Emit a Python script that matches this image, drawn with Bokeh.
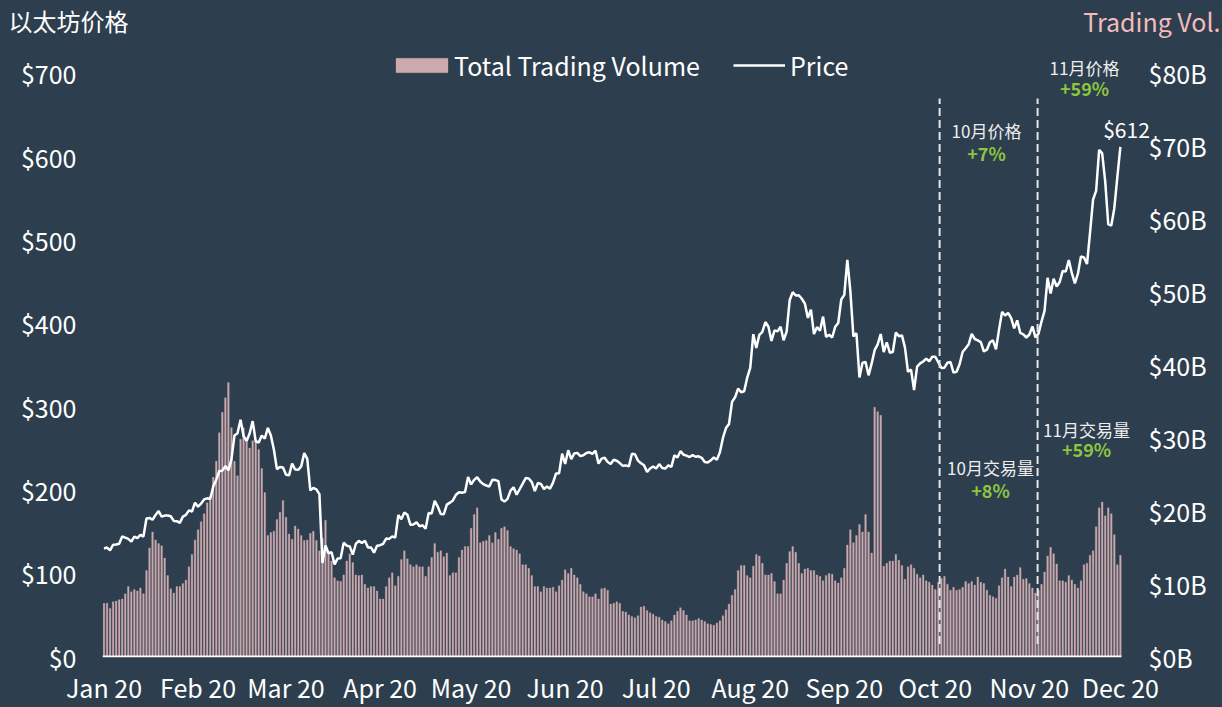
import pandas as pd
from bokeh.plotting import figure
from bokeh.layouts import column
from bokeh.models import (Range1d, LinearAxis, FixedTicker, PrintfTickFormatter,
                          DatetimeTickFormatter, Label, Legend, LegendItem, ColumnDataSource)
from bokeh.core.properties import value
from bokeh.embed import file_html
from bokeh.resources import INLINE

# ---------------- data ----------------
price_jan = [129.6, 130.8, 127.4, 134.2, 134.4, 135.4, 144.1, 142.8, 141.3, 138.0, 143.9, 142.1, 146.1, 144.0,
             165.6, 166.4, 164.2, 170.0, 174.6, 167.9, 169.2, 169.3, 168.4, 162.8, 162.5, 160.4, 167.9, 170.0,
             175.4, 174.1, 184.7]
price_feb = [179.9, 183.6, 188.6, 189.9, 189.1, 204.2, 212.3, 222.7, 223.1, 228.6, 223.5, 236.7, 265.4, 268.0,
             284.2, 264.7, 258.9, 267.8, 282.6, 258.4, 256.9, 265.3, 261.5, 274.5, 265.4, 248.3, 225.0, 227.5,
             226.8]
price_mar = [218.3, 217.5, 231.6, 224.5, 224.1, 228.3, 244.2, 237.2, 199.5, 202.3, 200.7, 194.9, 112.3, 133.2,
             124.0, 125.2, 110.6, 117.7, 117.9, 136.6, 133.0, 132.2, 122.3, 135.1, 138.8, 136.3, 138.9, 131.0,
             130.9, 124.7, 132.9]
price_apr = [133.6, 135.3, 141.6, 141.2, 144.2, 142.8, 169.8, 164.7, 173.0, 170.3, 158.1, 158.4, 161.1, 156.3,
             157.6, 153.3, 172.2, 171.6, 186.9, 180.0, 171.1, 170.9, 182.3, 184.7, 187.4, 194.2, 197.2, 196.6,
             197.4, 215.5]
price_may = [206.6, 212.1, 215.2, 210.1, 206.9, 205.3, 204.1, 212.1, 211.8, 210.5, 188.6, 186.0, 189.3, 199.2,
             203.1, 194.3, 200.8, 207.6, 214.2, 213.8, 209.4, 198.7, 208.3, 207.2, 201.1, 204.1, 201.5, 208.8,
             219.8, 220.0, 243.5]
price_jun = [231.1, 247.6, 236.9, 243.8, 244.5, 240.6, 241.6, 244.4, 245.2, 243.4, 247.1, 231.6, 237.6, 238.7,
             233.5, 231.1, 236.2, 235.1, 232.2, 228.9, 229.4, 228.2, 243.4, 242.9, 235.2, 232.1, 229.5, 221.7,
             225.7, 228.2]
price_jul = [225.7, 231.0, 226.4, 225.6, 229.4, 227.7, 241.5, 239.0, 246.5, 242.3, 241.2, 239.5, 241.8, 239.8,
             240.3, 238.5, 233.6, 232.8, 235.5, 239.0, 236.1, 245.2, 262.4, 274.2, 279.1, 305.7, 311.2, 321.6,
             317.2, 318.4, 334.8]
price_aug = [346.6, 387.0, 370.5, 386.2, 389.9, 401.6, 395.9, 378.9, 391.5, 390.4, 395.9, 379.7, 390.0, 427.8,
             437.4, 433.4, 433.8, 429.5, 423.7, 406.5, 416.4, 387.2, 395.4, 391.1, 408.1, 383.7, 386.3, 383.0,
             395.8, 400.4, 428.6]
price_sep = [434.2, 476.2, 438.4, 384.4, 388.1, 335.1, 352.8, 353.5, 337.6, 351.6, 367.8, 374.7, 387.2, 365.5,
             377.3, 364.8, 365.6, 389.0, 384.6, 385.5, 370.9, 341.8, 344.5, 320.0, 348.0, 351.9, 354.2, 357.6,
             354.5, 359.8]
price_oct = [359.9, 353.2, 346.5, 346.8, 352.7, 353.6, 340.9, 341.8, 350.9, 365.6, 370.1, 375.0, 387.4, 381.2,
             379.5, 377.4, 366.2, 368.4, 377.3, 379.6, 368.9, 392.5, 413.8, 409.4, 412.5, 406.2, 393.9, 403.6,
             388.5, 386.7, 383.0]
price_nov = [386.6, 396.4, 383.2, 387.6, 402.1, 415.0, 454.7, 435.7, 453.6, 444.2, 449.7, 462.9, 462.3, 476.1,
             460.2, 448.0, 459.6, 480.4, 479.1, 471.2, 509.1, 548.7, 559.0, 608.4, 604.1, 570.2, 518.8, 517.5,
             538.2, 575.8]
price_dec = [612.0]

# total trading volume, billions of USD
vol_jan = [7.3, 7.3, 6.6, 7.5, 7.6, 7.8, 7.9, 8.6, 9.6, 8.9, 9.2, 9.0, 9.4, 8.6, 11.8, 14.9, 17.1, 16.0, 15.5,
           15.2, 13.5, 11.1, 9.3, 8.7, 9.6, 9.6, 10.0, 10.5, 12.3, 14.0, 16.0]
vol_feb = [17.4, 18.5, 19.6, 21.1, 22.0, 24.6, 26.8, 30.7, 33.5, 35.5, 37.6, 31.4, 26.8, 24.8, 29.8, 31.4, 29.8,
           28.6, 29.6, 29.6, 28.4, 25.8, 22.5, 16.6, 17.0, 17.2, 18.8, 19.8, 21.4]
vol_mar = [19.1, 16.8, 16.1, 17.9, 17.5, 16.6, 15.9, 16.0, 16.9, 17.2, 15.9, 14.5, 16.2, 18.7, 14.3, 13.1, 10.8,
           10.4, 10.3, 11.2, 13.1, 14.1, 12.9, 11.2, 11.1, 11.2, 9.9, 9.4, 9.6, 9.6, 9.0]
vol_apr = [7.9, 7.9, 9.6, 10.8, 11.5, 9.7, 11.0, 13.3, 14.5, 13.4, 12.6, 12.3, 12.6, 12.3, 12.3, 11.0, 12.3, 13.6,
           15.5, 14.3, 14.5, 13.7, 14.2, 11.1, 11.5, 11.5, 13.6, 14.6, 15.1, 15.1]
vol_may = [17.6, 19.5, 20.4, 15.6, 15.8, 15.9, 16.6, 15.6, 17.0, 16.1, 17.6, 17.8, 17.3, 15.1, 14.8, 14.6, 14.1,
           12.6, 12.6, 12.1, 11.1, 9.6, 9.6, 8.9, 9.6, 9.4, 9.4, 9.5, 8.9, 9.7, 10.5]
vol_jun = [11.9, 11.4, 12.1, 11.2, 10.8, 9.9, 8.9, 8.6, 8.2, 8.2, 8.6, 7.9, 9.3, 9.4, 9.1, 7.2, 7.3, 7.5, 7.3,
           6.2, 6.1, 5.7, 5.5, 5.3, 5.6, 6.8, 6.9, 6.3, 6.0, 5.8]
vol_jul = [5.5, 5.4, 5.0, 4.8, 4.5, 4.9, 5.7, 6.2, 6.7, 6.3, 5.7, 4.9, 4.9, 5.0, 5.2, 5.0, 4.8, 4.5, 4.4, 4.3,
           4.6, 4.9, 5.6, 6.4, 7.2, 8.4, 9.2, 11.8, 12.5, 12.5, 11.1]
vol_aug = [10.8, 12.4, 14.0, 13.8, 12.8, 11.2, 11.2, 11.4, 10.3, 8.6, 8.6, 10.5, 12.8, 14.4, 15.1, 14.3, 12.8,
           11.4, 12.0, 12.1, 11.8, 11.8, 11.2, 11.0, 10.4, 11.1, 11.4, 11.3, 10.4, 10.1, 10.8]
vol_sep = [12.1, 15.3, 17.4, 15.6, 16.6, 18.1, 17.1, 19.5, 17.1, 14.2, 34.2, 33.6, 33.1, 12.4, 12.8, 13.1, 13.1,
           14.0, 13.2, 12.5, 10.6, 12.3, 12.6, 12.1, 11.3, 10.8, 11.2, 10.4, 10.2, 9.8]
vol_oct = [9.2, 10.2, 10.7, 11.0, 9.9, 9.1, 9.5, 9.1, 9.2, 9.5, 10.3, 10.0, 10.3, 9.8, 10.9, 10.2, 10.0, 9.1,
           8.4, 8.2, 8.0, 9.7, 10.8, 12.0, 10.9, 9.6, 10.9, 11.2, 12.2, 10.6, 10.7]
vol_nov = [10.0, 9.4, 8.7, 9.1, 9.9, 11.6, 13.8, 15.0, 14.1, 12.7, 10.4, 10.4, 10.2, 11.1, 10.5, 9.9, 9.4, 10.4,
           12.6, 12.8, 13.9, 14.5, 17.8, 20.4, 21.2, 19.3, 20.4, 19.6, 16.7, 12.6]
vol_dec = [13.9]

price_ticks = [0, 100, 200, 300, 400, 500, 600, 700]
vol_ticks = [0, 10, 20, 30, 40, 50, 60, 70, 80]
month_ticks = ["2020-01-01", "2020-02-01", "2020-03-01", "2020-04-01", "2020-05-01", "2020-06-01",
               "2020-07-01", "2020-08-01", "2020-09-01", "2020-10-01", "2020-11-01", "2020-12-01"]

price = (price_jan + price_feb + price_mar + price_apr + price_may + price_jun + price_jul + price_aug +
         price_sep + price_oct + price_nov + price_dec)
volume = (vol_jan + vol_feb + vol_mar + vol_apr + vol_may + vol_jun + vol_jul + vol_aug + vol_sep +
          vol_oct + vol_nov + vol_dec)
dates = pd.date_range("2020-01-01", "2020-12-01", freq="D")
src = ColumnDataSource(dict(date=dates, price=price, vol=volume))

# ---------------- style ----------------
BG = "#2d3e4e"
BAR = "#cba9ad"
GREEN = "#8cc63f"
FONT = "Noto Sans CJK SC"
DAY = 86400000

PAGE_W, PAGE_H = 1222, 707
HDR_H = 40                       # header strip (titles)
PX_PER_DAY = 3.034
PX_PER_USD = 0.8329
X0_PX = 103.5                    # page x of first day
ZERO_PX = 656                    # page y of $0
FRAME_L, FRAME_R, FRAME_B = 102, 1150, 657

def no_align(fig):
    if "frame_align" in fig.properties():
        fig.frame_align = False
    fig.styles = {"background-color": BG}

# ---------------- header strip with the two titles ----------------
hdr = figure(width=PAGE_W, height=HDR_H, output_backend="svg", toolbar_location=None,
             x_range=Range1d(0, PAGE_W), y_range=Range1d(HDR_H, 0),
             x_axis_location=None, y_axis_location=None, min_border=0,
             background_fill_color=BG, border_fill_color=BG, outline_line_color=None)
hdr.grid.visible = False
no_align(hdr)
hdr.text(x=[8], y=[20], text=["以太坊价格"], text_font=value(FONT), text_font_size="24px",
         text_align="left", text_baseline="middle", text_color="white")
hdr.text(x=[1220], y=[20], text=["Trading Vol."], text_font=value(FONT), text_font_size="25px",
         text_align="right", text_baseline="middle", text_color="#f2bcbc")

# ---------------- main chart ----------------
y_lo = -(FRAME_B - ZERO_PX) / PX_PER_USD
y_hi = (ZERO_PX - HDR_H) / PX_PER_USD
x_lo = dates[0] - pd.Timedelta(days=(X0_PX - FRAME_L) / PX_PER_DAY)
x_hi = dates[0] + pd.Timedelta(days=(FRAME_R - X0_PX) / PX_PER_DAY)

p = figure(width=PAGE_W, height=PAGE_H - HDR_H, x_axis_type="datetime", output_backend="svg",
           toolbar_location=None, x_range=Range1d(x_lo, x_hi), y_range=Range1d(y_lo, y_hi),
           background_fill_color=BG, border_fill_color=BG, outline_line_color=None,
           min_border_left=FRAME_L, min_border_right=PAGE_W - FRAME_R, min_border_top=0,
           min_border_bottom=PAGE_H - FRAME_B)
p.extra_y_ranges = {"vol": Range1d(y_lo * 80 / 700, y_hi * 80 / 700)}
p.xgrid.visible = False
p.ygrid.visible = False
no_align(p)

bars = p.vbar(x="date", top="vol", width=0.55 * DAY, source=src, y_range_name="vol",
              fill_color=BAR, line_color=BAR, line_width=0.3)
line = p.line(x="date", y="price", source=src, line_color="white", line_width=2.5)

# baseline under the bars (from the frame's left edge to the last day)
p.segment(x0=[x_lo], x1=[dates[-1] + pd.Timedelta(hours=8)], y0=[0], y1=[0], line_color="white",
          line_width=2)

# vertical month separators
sep_x = [pd.Timestamp("2020-10-02 10:00"), pd.Timestamp("2020-11-03 17:00")]
p.segment(x0=sep_x, x1=sep_x, y0=[15, 15], y1=[670, 670], line_color="#e6e6e6", line_width=2,
          line_dash="8 4")

def style_axis(ax):
    ax.axis_line_color = None
    ax.major_tick_line_color = None
    ax.minor_tick_line_color = None
    ax.major_tick_out = 0
    ax.major_tick_in = 0
    ax.minor_tick_out = 0
    ax.major_label_text_color = "white"
    ax.major_label_text_font = FONT
    ax.major_label_text_font_size = "25px"

# left axis
yl = p.yaxis[0]
yl.ticker = FixedTicker(ticks=price_ticks)
yl.formatter = PrintfTickFormatter(format="$%d")
style_axis(yl)
yl.major_label_standoff = 26

# right axis
yr = LinearAxis(y_range_name="vol", ticker=FixedTicker(ticks=vol_ticks),
                formatter=PrintfTickFormatter(format="$%dB"))
style_axis(yr)
yr.major_label_standoff = -2
p.add_layout(yr, "right")

# bottom axis
xa = p.xaxis[0]
xa.ticker = FixedTicker(ticks=[pd.Timestamp(m).value // 10**6 for m in month_ticks])
fmt = "%b %y"
xa.formatter = DatetimeTickFormatter(milliseconds=fmt, seconds=fmt, minsec=fmt, minutes=fmt, hourmin=fmt,
                                     hours=fmt, days=fmt, months=fmt, years=fmt)
style_axis(xa)
xa.major_label_standoff = 11

# legends (two, so each swatch can have its own width)
leg_common = dict(orientation="horizontal", label_text_font=FONT, label_text_font_size="25px",
                  label_text_color="white", background_fill_alpha=0, border_line_alpha=0,
                  padding=0, margin=0, label_height=24)
leg_bar = Legend(items=[LegendItem(label="Total Trading Volume", renderers=[bars])],
                 location=(287, FRAME_B - 83), glyph_width=65, glyph_height=18, label_standoff=-1,
                 **leg_common)
leg_line = Legend(items=[LegendItem(label="Price", renderers=[line])],
                  location=(631, FRAME_B - 83), glyph_width=52, glyph_height=18, label_standoff=5,
                  **leg_common)
p.add_layout(leg_bar)
p.add_layout(leg_line)

# page pixel -> data helpers for annotation placement
def px_x(px):
    return (dates[0] + pd.Timedelta(days=(px - X0_PX) / PX_PER_DAY)).value // 10**6

def px_y(py):
    return (ZERO_PX - py) / PX_PER_USD

def add_label(px, py, text, size, color, style="normal"):
    p.add_layout(Label(x=px_x(px), y=px_y(py), text=text, text_align="center", text_baseline="middle",
                       text_font=FONT, text_font_size=size, text_color=color, text_font_style=style))

add_label(986, 130, "10月价格", "17px", "#eeeeee")
add_label(986, 152, "+7%", "18px", GREEN, style="bold")
add_label(1084, 67, "11月价格", "17px", "#eeeeee")
add_label(1084, 87, "+59%", "18px", GREEN, style="bold")
add_label(990, 467, "10月交易量", "17px", "#eeeeee")
add_label(990, 489, "+8%", "18px", GREEN, style="bold")
add_label(1086, 429, "11月交易量", "17px", "#eeeeee")
add_label(1086, 448, "+59%", "18px", GREEN, style="bold")
add_label(1126, 128, "$612", "21px", "white")

layout = column(hdr, p, spacing=0)
layout.styles = {"background-color": BG}
open("out.html", "w").write(file_html(layout, INLINE))
